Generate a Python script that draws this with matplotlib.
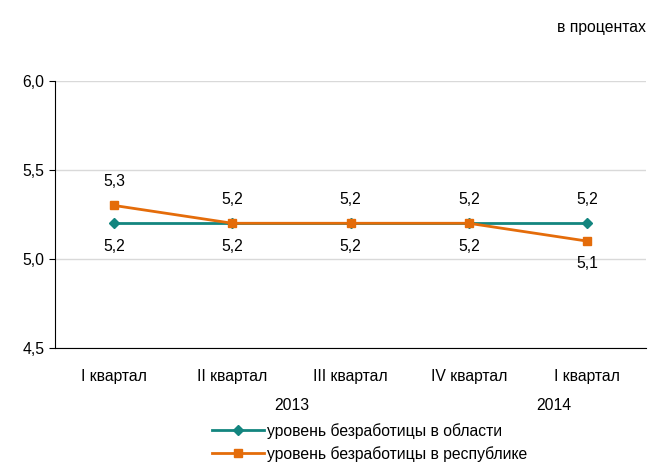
import matplotlib
matplotlib.use("Agg")
import matplotlib.pyplot as plt
from matplotlib.ticker import FuncFormatter

plt.rcParams["font.family"] = ["Liberation Sans", "DejaVu Sans"]

quarters = ["I квартал", "II квартал", "III квартал", "IV квартал", "I квартал"]
region = [5.2, 5.2, 5.2, 5.2, 5.2]
republic = [5.3, 5.2, 5.2, 5.2, 5.1]
region_name = "уровень безработицы в области"
republic_name = "уровень безработицы в республике"
years = ["2013", "2014"]

teal = "#13857F"
orange = "#E46C0A"
fs = 11.3

fig = plt.figure(figsize=(6.48, 4.62), dpi=100)
ax = fig.add_axes([0.085, 0.247, 0.912, 0.578])

x = list(range(len(quarters)))
ax.plot(x, region, color=teal, lw=2, marker="D", ms=5.5, label=region_name, zorder=3)
ax.plot(x, republic, color=orange, lw=2, marker="s", ms=5.5, label=republic_name, zorder=4)

# подписи значений: большее значение сверху, меньшее снизу
for i in x:
    r, p = region[i], republic[i]
    lab_r = f"{r:.1f}".replace(".", ",")
    lab_p = f"{p:.1f}".replace(".", ",")
    up, down = (p, lab_p), (r, lab_r)
    if p < r:
        up, down = (r, lab_r), (p, lab_p)
    ax.annotate(up[1], (i, up[0]), xytext=(0, 17), textcoords="offset points",
                ha="center", va="center", fontsize=fs)
    ax.annotate(down[1], (i, down[0]), xytext=(0, -16.5), textcoords="offset points",
                ha="center", va="center", fontsize=fs)

ax.set_xlim(-0.5, len(quarters) - 0.5)
ax.set_ylim(4.5, 6.0)
ax.set_yticks([4.5, 5.0, 5.5, 6.0])
ax.yaxis.set_major_formatter(FuncFormatter(lambda v, _: f"{v:.1f}".replace(".", ",")))
ax.set_xticks(x)
ax.set_xticklabels(quarters)
ax.tick_params(axis="x", length=0, pad=15, labelsize=fs)
ax.tick_params(axis="y", length=4, labelsize=fs)
ax.grid(axis="y", color="#D9D9D9", lw=1)
ax.set_axisbelow(True)
for s in ["top", "right"]:
    ax.spines[s].set_visible(False)

ax.text(1.5, -0.215, years[0], transform=ax.get_xaxis_transform(), ha="center", va="center", fontsize=fs)
ax.text(3.72, -0.215, years[1], transform=ax.get_xaxis_transform(), ha="center", va="center", fontsize=fs)

fig.text(0.996, 0.94, "в процентах", ha="right", va="center", fontsize=fs)

fig.legend(loc="lower center", bbox_to_anchor=(0.57, -0.03), frameon=False,
           fontsize=fs, handlelength=3.3, handletextpad=0.2, labelspacing=0.45)

fig.savefig("out.png", dpi=100)
